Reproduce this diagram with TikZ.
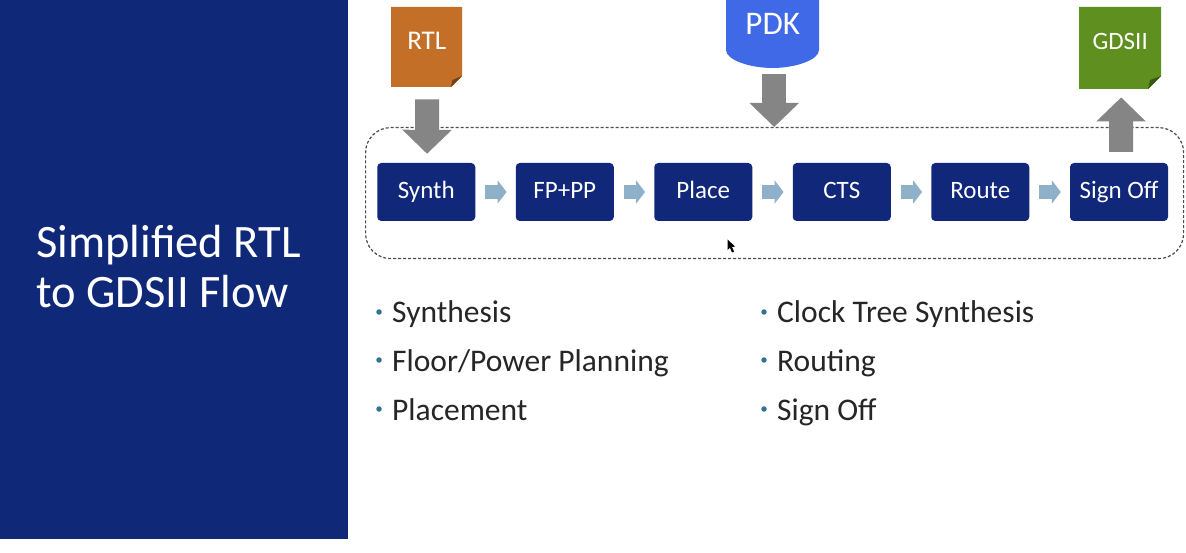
\documentclass[tikz,border=0pt]{standalone}
\usepackage{fontspec}
\setmainfont{Carlito}
\usetikzlibrary{arrows.meta}
\definecolor{navy}{HTML}{0F2878}
\definecolor{boxnavy}{HTML}{10277A}
\definecolor{flowarrow}{HTML}{8FB0C9}
\definecolor{bigarrow}{HTML}{858585}
\definecolor{rtlc}{HTML}{C46F28}
\definecolor{rtld}{HTML}{7A3E12}
\definecolor{pdkc}{HTML}{3F69E6}
\definecolor{gdsc}{HTML}{5F8F1E}
\definecolor{gdsd}{HTML}{3A5A12}
\definecolor{bullet}{HTML}{2F7490}
\newcommand{\fs}[1]{\fontsize{#1}{#1}\selectfont}
\tikzset{
  x=1pt,y=-1pt,
  stagebox/.style={draw=none,fill=boxnavy,rounded corners=4pt,minimum width=98pt,minimum height=58pt,inner sep=0pt,text=white,font=\fs{25},text height=14pt,text depth=0pt},
  flowtip/.style={draw=flowarrow,line width=14.5pt,-{Triangle[length=9pt,width=23pt,color=flowarrow]},shorten <=10pt,shorten >=9pt},
  bigtip/.style={draw=bigarrow,line width=24pt,-{Triangle[length=24pt,width=48pt,color=bigarrow]}},
  paper/.style={minimum width=#1,inner sep=0pt,text=white,text depth=0pt},
  bulletitem/.style={anchor=base west,inner sep=0pt,font=\fs{31.5},text=black!85},
  bulletdot/.style={circle,fill=bullet,minimum size=5.5pt,inner sep=0pt},
}
\begin{document}
\begin{tikzpicture}
\useasboundingbox (0,0) rectangle (1186,553);
\fill[white] (0,0) rectangle (1186,553);
% left panel
\node[fill=navy,minimum width=348pt,minimum height=539pt,inner sep=0pt,anchor=north west] (panel) at (0,0) {};
\node[anchor=base west,inner sep=0pt,text=white,font=\fs{46.5}] (t1) at (36,258) {Simplified RTL};
\node[anchor=base west,inner sep=0pt,text=white,font=\fs{46.5}] (t2) at (36,308) {to GDSII Flow};
% flow frame
\node[draw=black!70,dash pattern=on 3pt off 2pt,line width=1.2pt,rounded corners=25pt,minimum width=818pt,minimum height=131pt,inner sep=0pt,anchor=north west] (flow) at (365,127) {};
% stages
\node[stagebox] (s1) at (426.25,192) {Synth};
\node[stagebox] (s2) at (564.75,192) {FP+PP};
\node[stagebox] (s3) at (703.25,192) {Place};
\node[stagebox] (s4) at (841.75,192) {CTS};
\node[stagebox] (s5) at (980.25,192) {Route};
\node[stagebox] (s6) at (1119,192) {Sign Off};
\foreach \a/\b in {s1/s2,s2/s3,s3/s4,s4/s5,s5/s6}
  \draw[flowtip] (\a) -- (\b);
% RTL
\fill[rtlc] (391,7) -- (462,7) -- (462,76) -- (451,87) -- (391,87) -- cycle;
\fill[rtld] (462,76) -- (451,87) -- (452.5,80) -- cycle;
\node[paper=71pt,minimum height=80pt,anchor=north west,font=\fs{27},text height=4pt] (rtl) at (391,7) {RTL};
% GDSII
\fill[gdsc] (1079,7) -- (1161,7) -- (1161,76) -- (1148,89) -- (1079,89) -- cycle;
\fill[gdsd] (1161,76) -- (1148,89) -- (1150,80) -- cycle;
\node[paper=82pt,minimum height=82pt,anchor=north west,font=\fs{25},text height=2pt] (gds) at (1079,7) {GDSII};
% PDK
\fill[pdkc] (726,0) -- (819,0) -- (819,50) .. controls (819,60) and (795,68) .. (772.5,68) .. controls (750,68) and (726,60) .. (726,50) -- cycle;
\node[paper=93pt,minimum height=68pt,anchor=north west,font=\fs{33},text height=0pt] (pdk) at (726,0) {PDK};
% big arrows
\draw[bigtip,shorten <=12pt,shorten >=9pt] ([xshift=0.5pt]rtl.south) -- ([xshift=0.75pt]s1.north);
\draw[bigtip,shorten <=6pt] ([xshift=1.5pt]pdk.south) -- ([xshift=1.5pt]pdk.south |- flow.north);
\draw[bigtip,shorten <=11pt,shorten >=8pt] ([xshift=2pt]s6.north) -- ([xshift=1pt]gds.south);
% cursor
\fill[black] (727.5,239.5) -- (727.5,250) -- (730,247.8) -- (732,252.5) -- (734,251.5) -- (732,247) -- (735,246.5) -- cycle;
% bullets
\foreach \n/\x/\y/\t in {b1/392/323/Synthesis,b2/392/371/Floor\slash Power Planning,b3/392/420/Placement,b4/777/323/Clock Tree Synthesis,b5/777/371/Routing,b6/777/420/Sign Off}{
  \node[bulletitem] (\n) at (\x,\y) {\t};
  \node[bulletdot] (\n d) at (\x-13,\y-11) {};
}
\end{tikzpicture}
\end{document}
